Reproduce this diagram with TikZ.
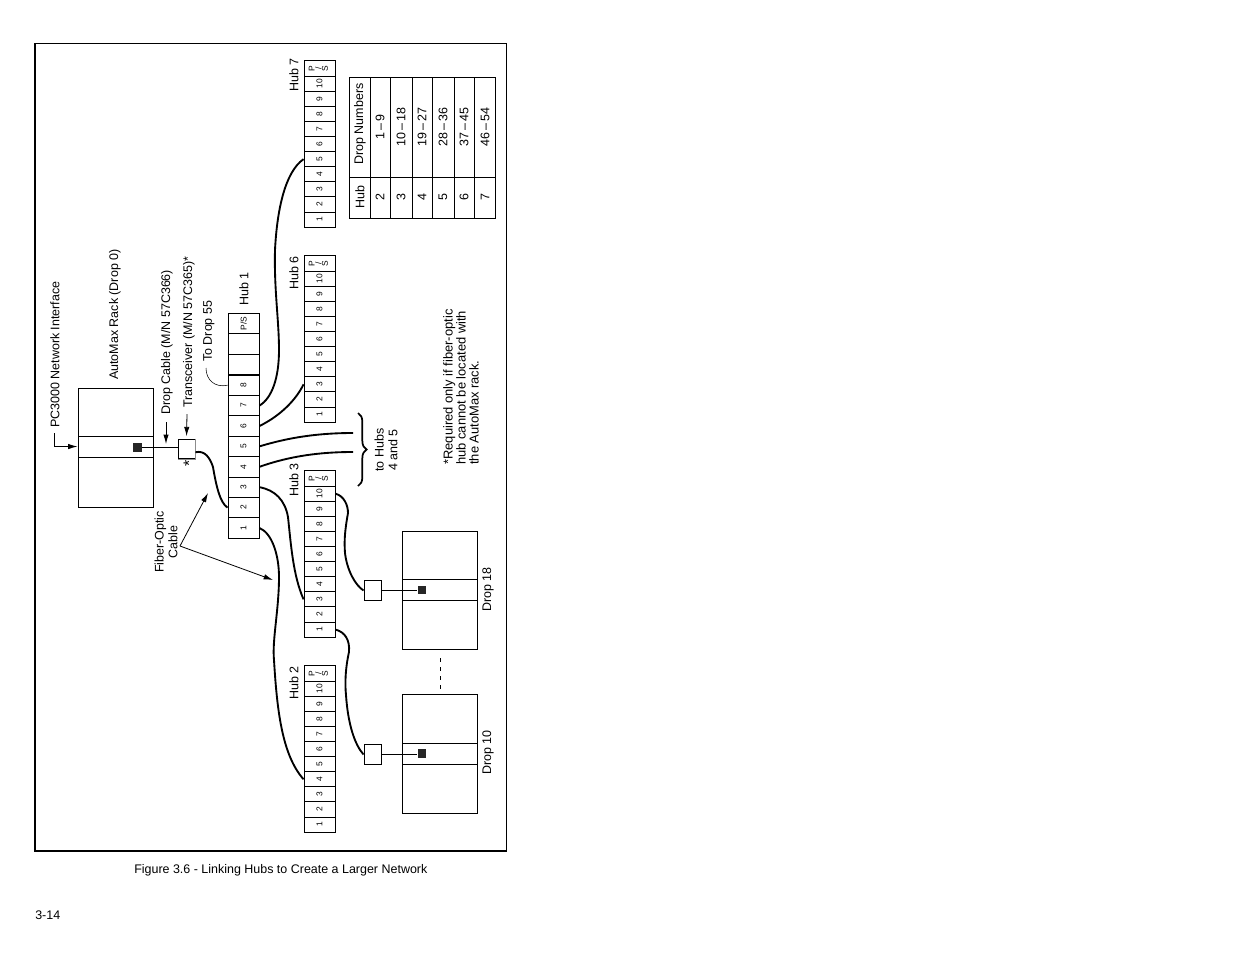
\documentclass[tikz,border=0pt]{standalone}
\usepackage{fontspec}
\setmainfont{Liberation Sans}
\usetikzlibrary{arrows.meta,decorations.pathreplacing}
\tikzset{
  frameline/.style={line width=0.7pt},
  portcell/.style={draw,line width=0.7pt,minimum width=23.25pt,minimum height=11.325pt,inner sep=0pt,font=\fontsize{6.3}{6.3}\selectfont},
  hubcell/.style={portcell,minimum height=15.3pt},
  panel/.style={draw,line width=0.7pt,inner sep=0pt,minimum width=56.25pt},
  porthole/.style={fill=black!85,inner sep=0pt,minimum size=6.4pt},
  xcvrbox/.style={draw,fill=white,line width=0.7pt,inner sep=0pt,minimum width=12.75pt,minimum height=14.5pt},
  cable/.style={line width=1.4pt},
  thinline/.style={line width=0.7pt},
  pointer/.style={line width=0.6pt,-{Latex[length=7pt,width=4pt]}},
  caption/.style={inner sep=0pt,font=\fontsize{9.35}{10.4}\selectfont},
  sidetext/.style={caption,rotate=90,anchor=west},
  midtext/.style={caption,rotate=90,align=center},
}
\newcommand{\hubstrip}[2]{%
  \node[portcell] (#1ps) at (319.5,#2+7.5)
    {\rotatebox{90}{\begin{tabular}{@{}c@{}}P\\[-1.4pt]/\\[-1.4pt]S\end{tabular}}};
  \foreach \n in {1,...,10}
    \node[portcell] (#1p\n) at (319.5,{#2+15.1+(10.5-\n)*15.1}) {\rotatebox{90}{\n}};
}
\newcommand{\dropunit}[2]{%
  \node[panel,minimum height=88.7pt] (#1) at (439.5,#2) {};
  \node[panel,minimum height=15.8pt] (#1bar) at (439.5,#2-0.5) {};
  \node[porthole] (#1port) at (422,#2-0.5) {};
}
\begin{document}
\begin{tikzpicture}[x=0.75pt,y=-0.75pt]
\useasboundingbox (0,0) rectangle (1235,954);
% outer frame
\draw[frameline] (35,43) rectangle (506,851);
\draw[line width=1.3pt] (35,43) -- (35,851) -- (506,851);
% rack
\node[panel,minimum height=89.2pt] (rack) at (115.5,447.5) {};
\node[panel,minimum height=15.8pt] (rackbar) at (115.5,446.5) {};
\node[porthole] (rackport) at (137.5,447.5) {};
\node[xcvrbox] (xcvr) at (186.5,449) {};
\draw[line width=0.9pt,black!45] (xcvr.north east) -- (xcvr.south east) -- (xcvr.south west);
\draw[thinline] (rackport.east) -- (rackport.east -| xcvr.west);
% hub 1
\foreach \n in {1,...,8}
  \node[hubcell] (h1p\n) at (243.5,{528-(\n-1)*20.4}) {\rotatebox{90}{\n}};
\node[hubcell] (h1blanka) at (243.5,364.2) {};
\node[hubcell] (h1blankb) at (243.5,343.8) {};
\node[hubcell] (h1ps) at (243.5,323.4) {\rotatebox{90}{P/S}};
% other hubs
\hubstrip{h7}{61}
\hubstrip{h6}{256}
\hubstrip{h3}{471}
\hubstrip{h2}{666}
% drops
\dropunit{dropa}{590.5}
\dropunit{dropb}{754}
\node[xcvrbox] (xcvra) at (372.5,590.5) {};
\node[xcvrbox] (xcvrb) at (372.5,754.5) {};
\draw[thinline] (xcvra.east) -- (xcvra.east -| dropaport.west);
\draw[thinline] (xcvrb.east) -- (xcvrb.east -| dropbport.west);
\coordinate (gaptop) at (440,658);
\coordinate (gapend) at (440,690);
\draw[thinline,dash pattern=on 3pt off 3.75pt] (gaptop) -- (gapend);
% cables
\coordinate (toa) at (353,433);
\coordinate (tob) at (353,452);
\draw[cable] (xcvr.-20) .. controls (205,450) and (210,458) .. (213,467)
  .. controls (216,485) and (220,503) .. (h1p2.west);
\draw[cable] (h1p1.east) .. controls (272,533) and (279,555) .. (279,577)
  .. controls (279,610) and (272,640) .. (274,660)
  .. controls (277,710) and (282,755) .. (h2p4.west);
\draw[cable] (h1p3.east) .. controls (275,490) and (285,500) .. (288,517)
  .. controls (291,545) and (293,575) .. (h3p3.west);
\draw[cable] (h1p4.east) .. controls (290,456) and (320,452) .. (tob);
\draw[cable] (h1p5.east) .. controls (290,437) and (320,433) .. (toa);
\draw[cable] (h1p6.east) .. controls (280,416) and (296,400) .. (h6p3.west);
\draw[cable] (h1p7.east) .. controls (272,398) and (279,378) .. (279,350)
  .. controls (279,320) and (274,290) .. (275,250)
  .. controls (277,210) and (285,172) .. (h7p5.west);
\draw[cable] (h3p10.east) .. controls (344,496) and (348,505) .. (348,513)
  .. controls (345,530) and (344,540) .. (345,553)
  .. controls (347,570) and (355,585) .. (xcvra.west);
\draw[cable] (h3p1.east) .. controls (345,632) and (350,640) .. (349,652)
  .. controls (345,670) and (345,685) .. (346,695)
  .. controls (348,725) and (355,745) .. (xcvrb.west);
% brace
\coordinate (bracetop) at (358,413);
\coordinate (braceend) at (358,486);
\draw[line width=1.3pt,decorate,decoration={brace,amplitude=6.5pt}] (bracetop) -- (braceend);
% pointers
\coordinate (pcstart) at (54,433);
\coordinate (dropstart) at (166,422);
\coordinate (dropend) at (166,444);
\coordinate (xcvrstart) at (187,414);
\coordinate (fiberapex) at (180,546);
\coordinate (fibera) at (208,493);
\coordinate (fiberb) at (273,580);
\coordinate (tostart) at (206,368);
\draw[pointer] (pcstart) |- (rackbar.west);
\draw[pointer] (dropstart) -- (dropend);
\draw[pointer,shorten >=2pt] (xcvrstart) -- (xcvr.north);
\draw[pointer] (fiberapex) -- (fibera);
\draw[pointer] (fiberapex) -- (fiberb);
\draw[line width=0.4pt] (tostart) .. controls (206,380) and (215,388) .. (h1p8.west);
% labels
\node[sidetext] (pclabel) at (55,428) {PC3000 Network Interface};
\node[sidetext] (racklabel) at (115,380) {AutoMax Rack (Drop 0)};
\node[sidetext] (droplabel) at (167,415) {Drop Cable (M/N 57C366)};
\node[sidetext] (xcvrlabel) at (189,408) {Transceiver (M/N 57C365)*};
\node[sidetext] (tolabel) at (209,362) {To Drop 55};
\node[sidetext] (hubalabel) at (244,306) {Hub 1};
\node[sidetext] (hubblabel) at (294,92) {Hub 7};
\node[sidetext] (hubclabel) at (294,290) {Hub 6};
\node[sidetext] (hubdlabel) at (294,497) {Hub 3};
\node[sidetext] (hubelabel) at (294,700) {Hub 2};
\node[sidetext] (dropalabel) at (488,612) {Drop 18};
\node[sidetext] (dropblabel) at (488,775) {Drop 10};
\node[midtext] (fiberlabel) at (166,542) {Fiber-Optic\\Cable};
\node[midtext] (hubslabel) at (386,450) {to Hubs\\4 and 5};
\node[sidetext,align=left,font=\fontsize{9.7}{9.7}\selectfont] (notelabel) at (461,465) {*Required only if fiber-optic\\hub cannot be located with\\the AutoMax rack.};
\node[midtext,font=\fontsize{12}{12}\selectfont] (starlabel) at (189,463) {*};
% table
\draw[thinline] (349,77) rectangle (495,218);
\foreach \x in {370,390,412,432,454,474}
  \draw[thinline] (\x,77) -- (\x,218);
\draw[thinline] (349,177) -- (495,177);
\node[midtext] (tabhub) at (360,197) {Hub};
\node[midtext] (tabdrop) at (360,124) {Drop Numbers};
\foreach \x/\h/\d in {380/2/1\,--\,9,401/3/10\,--\,18,422/4/19\,--\,27,443/5/28\,--\,36,464/6/37\,--\,45,485/7/46\,--\,54}{
  \node[midtext] (hub\h) at (\x,197) {\h};
  \node[midtext] (range\h) at (\x,127) {\d};
}
% page text
\node[caption,anchor=west] (figlabel) at (134,870.5) {Figure 3.6 - Linking Hubs to Create a Larger Network};
\node[caption,anchor=west] (pagelabel) at (35,915) {3-14};
\end{tikzpicture}
\end{document}
